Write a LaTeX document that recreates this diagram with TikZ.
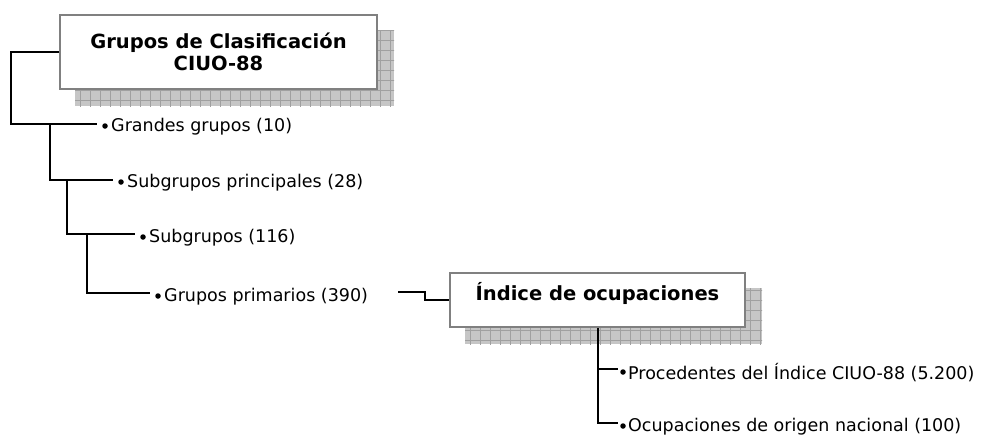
\documentclass[tikz,border=0pt]{standalone}
\usepackage{fontspec}
\setmainfont{DejaVu Sans}
\usetikzlibrary{backgrounds}
\definecolor{boxedge}{HTML}{808080}
\definecolor{shadefill}{HTML}{C6C6C6}
\definecolor{shadegrid}{HTML}{A0A0A0}
\tikzset{
  conn/.style={draw=black, line width=2pt},
  titlebox/.style={draw=boxedge, line width=2pt, fill=white, align=center, inner sep=0pt,
    font=\bfseries\fontsize{19.5}{21.5}\selectfont},
  bul/.style={circle, fill=black, inner sep=0pt, minimum size=5.5pt},
  lbl/.style={anchor=west, inner sep=0pt, font=\fontsize{17.5}{19}\selectfont},
}
\newcommand{\gridshadow}[1]{%
  \begin{scope}[on background layer]
    \fill[shadefill] ([shift={(16,16)}]#1.north west) rectangle ([shift={(16,16)}]#1.south east);
    \begin{scope}
      \clip ([shift={(16,16)}]#1.north west) rectangle ([shift={(16,16)}]#1.south east);
      \draw[shadegrid, line width=0.8pt, step=10pt] ([shift={(16,16)}]#1.north west) grid ([shift={(26,26)}]#1.south east);
    \end{scope}
  \end{scope}}
\begin{document}
\begin{tikzpicture}[x=1pt, y=-1pt]
\useasboundingbox (0,0) rectangle (981,439);

% title boxes
\node[titlebox, minimum width=317pt, minimum height=74pt] (box1) at (218.5,52) {Grupos de Clasificación\\CIUO-88};
\gridshadow{box1}
\node[titlebox, minimum width=295pt, minimum height=54pt, text height=9pt, text depth=9pt] (box2) at (597.5,300) {Índice de ocupaciones};
\gridshadow{box2}

% bullets and labels
\node[bul] (b1) at (105,126) {};
\node[lbl] (l1) at ([xshift=6pt,yshift=-1pt]b1.center) {Grandes grupos (10)};
\node[bul] (b2) at (121,182) {};
\node[lbl] (l2) at ([xshift=6pt,yshift=-1pt]b2.center) {Subgrupos principales (28)};
\node[bul] (b3) at (143,237) {};
\node[lbl] (l3) at ([xshift=6pt,yshift=-1pt]b3.center) {Subgrupos (116)};
\node[bul] (b4) at (158,296) {};
\node[lbl] (l4) at ([xshift=6pt,yshift=-1pt]b4.center) {Grupos primarios (390)};
\node[bul] (b5) at (623,372) {};
\node[lbl] (l5) at ([xshift=5pt,yshift=-1pt]b5.center) {Procedentes del Índice CIUO-88 (5.200)};
\node[bul] (b6) at (623,426) {};
\node[lbl] (l6) at ([xshift=5pt,yshift=-1pt]b6.center) {Ocupaciones de origen nacional (100)};

% connector end points
\coordinate (e1) at (97,124);
\coordinate (e2) at (113,180);
\coordinate (e3) at (135,234);
\coordinate (e4) at (150,293);
\coordinate (j1) at (50,124);
\coordinate (j2) at (67,180);
\coordinate (j3) at (87,234);
\coordinate (s5) at (398,292);
\coordinate (e5) at (618,369);
\coordinate (e6) at (618,423);

\draw[conn] (box1.west) -- ++(-48,0) |- (e1);
\draw[conn] (j1) |- (e2);
\draw[conn] (j2) |- (e3);
\draw[conn] (j3) |- (e4);
\draw[conn] (s5) -- ++(27,0) |- (box2.west);
\draw[conn] (box2.south) |- (e6);
\draw[conn] (box2.south |- e5) -- (e5);
\end{tikzpicture}
\end{document}
